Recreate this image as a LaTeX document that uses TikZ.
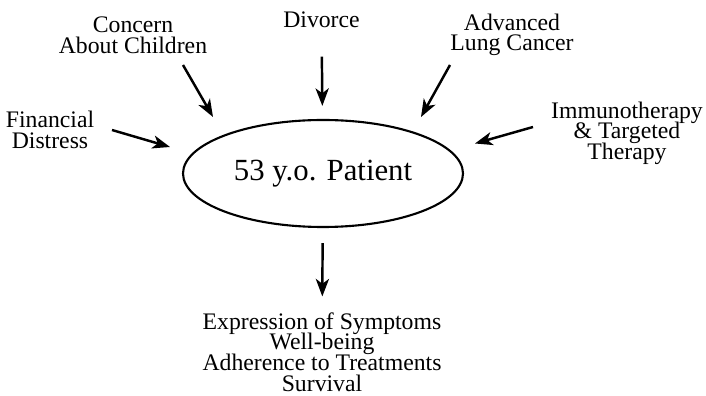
\documentclass[tikz,border=0pt]{standalone}
\usepackage{fontspec}
\setmainfont{Liberation Serif}
\usetikzlibrary{arrows.meta}
\usetikzlibrary{shapes.geometric}
\newcommand{\tightlines}{\fontsize{13.5}{11.7}\selectfont\lineskiplimit -20pt\relax}

\begin{document}
\begin{tikzpicture}[->, >={Stealth[length=10pt, width=7.5pt, inset=2.8pt]}, line width=1.4pt,
    main/.style = {draw, ellipse, line width=1.2pt, minimum width=5.6cm, minimum height=2.14cm, inner sep=0pt, font=\fontsize{17.5}{20}\selectfont},
    lbl/.style = {align=center, inner sep=0pt, font=\tightlines}]
    \useasboundingbox (0,0) rectangle (14.12,-7.92);
    % Nodes

    \node[main] (pat) at (6.46, -3.47) {53 y.o. Patient};

    \node[lbl] (fin) at (1.00, -2.60) {Financial\\Distress};
    \node[lbl] (con) at (2.66, -0.70) {Concern\\About Children};
    \node[lbl] (div) at (6.43, -0.40) {Divorce};
    \node[lbl] (adv) at (10.24, -0.70) {Advanced\\Lung Cancer};
    \node[lbl] (imm) at (12.54, -2.66) {Immunotherapy\\\& Targeted\\Therapy};
    \node[lbl] (out) at (6.44, -7.04) {Expression of Symptoms\\Well-being\\Adherence to Treatments\\Survival};

    % arrow ends
    \coordinate (fin1) at (2.24, -2.60);  \coordinate (fin2) at (3.40, -2.94);
    \coordinate (con1) at (3.66, -1.30);  \coordinate (con2) at (4.26, -2.34);
    \coordinate (adv1) at (9.00, -1.30);  \coordinate (adv2) at (8.42, -2.34);
    \coordinate (imm1) at (10.66, -2.54); \coordinate (imm2) at (9.50, -2.87);

    % Edges
    \draw (fin1) to (fin2);
    \draw (con1) to (con2);
    \draw[shorten <=0.55cm, shorten >=0.26cm] (div) to (pat);
    \draw (adv1) to (adv2);
    \draw (imm1) to (imm2);
    \draw[shorten <=0.3cm, shorten >=0.3cm] (pat) to (out);

\end{tikzpicture}
\end{document}
